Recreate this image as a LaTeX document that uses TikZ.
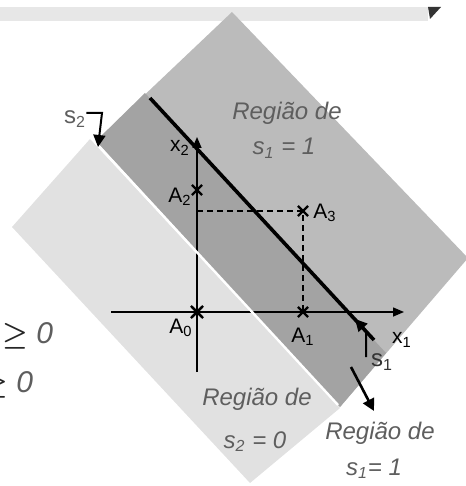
\documentclass[tikz,border=0pt]{standalone}
\usepackage{fontspec}
\setmainfont{Liberation Sans}
\usepackage{tikz}
\usetikzlibrary{arrows.meta,shapes.misc}
\definecolor{regionA}{HTML}{BBBBBB}
\definecolor{regionB}{HTML}{E1E1E1}
\definecolor{overlap}{HTML}{A3A3A3}
\definecolor{labgray}{HTML}{5E5E5E}
\definecolor{barfill}{HTML}{E7E7E7}
\tikzset{
  regtext/.style ={font=\fontsize{12}{15}\selectfont\itshape, text=labgray,
                   inner sep=0pt, anchor=base},
  ptlab/.style   ={font=\fontsize{10.5}{12}\selectfont, inner sep=0pt},
  slab/.style    ={font=\fontsize{12}{14}\selectfont, inner sep=0pt},
  ptmark/.style  ={cross out, draw=black, line width=1.1pt, minimum size=4pt,
                   inner sep=0pt},
  axisline/.style={draw=black, line width=0.75pt,
                   -{Triangle[length=5.5pt,width=4.5pt]}},
  guide/.style   ={draw=black, line width=0.7pt, dash pattern=on 3pt off 2pt},
  cutline/.style ={draw=black, line width=1.8pt},
  % the bent pointers from s1 and s2 to their lines
  hook/.style    ={draw=black, line width=1pt,
                   -{Triangle[length=6pt,width=6pt]}},
  edgehi/.style  ={draw=white, line width=1.2pt},
  geqtext/.style ={regtext, font=\fontsize{15}{18}\selectfont\itshape,
                   anchor=base west},
}
\def\ptlist{A0/197/312, A1/303/312, A2/197/190, A3/303/211}
\def\ptlabels{A/0/181/328, A/1/303/337, A/2/180/197, A/3/325/213,
              x/1/402/340, x/2/180/148}

\begin{document}
\begin{tikzpicture}[x=0.5pt,y=-0.5pt]
\useasboundingbox (0,0) rectangle (465,486);
% --- strip at the top ---
\fill[barfill] (0,7) rectangle (428,21);
\fill[black!80] (428,7) -- (441,7) -- (430,19) -- cycle;
% --- the three regions ---
\fill[regionA] (232,12) -- (468,258) -- (340,407) -- (96,141) -- cycle;
\fill[overlap] (145,93) -- (386,353) -- (340,407) -- (96,141) -- cycle;
\fill[regionB] (90,139) -- (340,408) -- (250,483) -- (12,227) -- cycle;
% --- axes, points and guides ---
\coordinate (x1tail) at (111,312);
\coordinate (x1tip)  at (404,312);
\coordinate (x2tail) at (197,372);
\coordinate (x2tip)  at (197,137);
\coordinate (cutA)   at (150,98);
\coordinate (cutB)   at (374,340);
\coordinate (edgeA)  at (96,143);
\coordinate (edgeB)  at (338,405);
\draw[cutline] (cutA) -- (cutB);
\draw[axisline] (x1tail) -- (x1tip);
\draw[axisline] (x2tail) -- (x2tip);
\draw[edgehi] (edgeA) -- (edgeB);
\foreach \n/\x/\y in \ptlist
  {\node[ptmark] (\n) at (\x,\y) {};}
\node[ptmark,minimum size=5pt] at (A0) {};
\draw[guide] (A0 |- A3) -- (A3.center) -- (A1.center);
\foreach \a/\s/\x/\y in \ptlabels
  {\node[ptlab] (lab\a\s) at (\x,\y) {\a\textsubscript{\s}};}
% --- region labels ---
\node[regtext] (regA) at (287,120) {Região de};
\node[regtext] (regAs) at (284,155) {s\textsubscript{1} = 1};
\node[regtext] (regB) at (257,405) {Região de};
\node[regtext] (regBs) at (255,448) {s\textsubscript{2} = 0};
\node[regtext] (regC) at (380,439) {Região de};
\node[regtext] (regCs) at (374,475) {s\textsubscript{1}= 1};
\node[geqtext] (geqA) at (2,343) {{\color{black!85}\boldmath$\geq$} 0};
\node[geqtext] (geqB) at (-18,392) {{\color{black!85}\boldmath$\geq$} 0};
% --- slack pointers ---
\node[slab,text=labgray] (s2lab) at (75,119) {s\textsubscript{2}};
\coordinate (s2bend) at (102,113);
\coordinate (s2tip)  at (98,147);
\draw[hook] (s2lab.east |- s2bend) -- (s2bend) -- (s2tip);
\node[slab,text=black!80] (s1lab) at (382,362) {s\textsubscript{1}};
\coordinate (s1foot) at (366,357);
\coordinate (s1bend) at (366,331);
\coordinate (s1tip)  at (355,319);
\draw[hook] (s1foot) -- (s1bend) -- (s1tip);
\coordinate (outA) at (351,367);
\coordinate (outB) at (374,411);
\draw[hook,line width=1.3pt] (outA) -- (outB);
\end{tikzpicture}
\end{document}
